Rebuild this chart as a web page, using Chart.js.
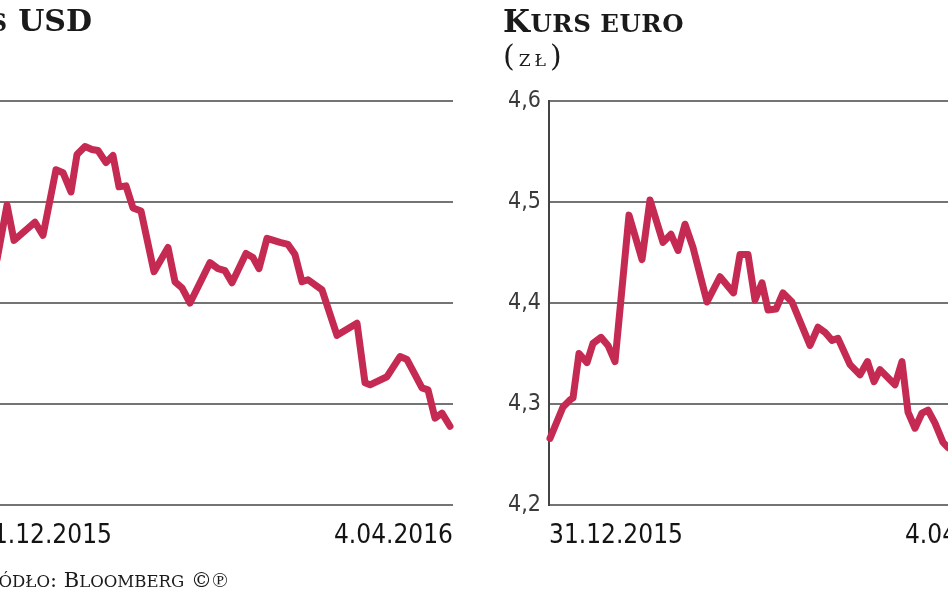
<!DOCTYPE html>
<html>
<head>
<meta charset="utf-8">
<script src="https://cdn.jsdelivr.net/npm/chart.js@4/dist/chart.umd.min.js"></script>
<style>
  html, body { margin: 0; padding: 0; width: 948px; height: 593px; overflow: hidden; background: #fff; }
  .panel { position: absolute; top: 0; width: 552px; height: 593px; }
  .title, .unit, .source { position: absolute; font-family: "DejaVu Serif", serif; color: #1a1a1a; white-space: nowrap; line-height: 1; }
  .title { font-weight: bold; font-size: 31px; letter-spacing: 0.5px; }
  .unit { font-size: 30px; letter-spacing: 4px; }
  .source { font-size: 21px; }
  .sc { font-size: 0.79em; text-transform: uppercase; }
</style>
</head>
<body>
<div class="panel" style="left:-91px"><canvas id="usdChart"></canvas></div>
<div class="panel" style="left:480px"><canvas id="eurChart"></canvas></div>
<div class="title" style="right:856px; top:6px; font-size:30px; letter-spacing:0">K<span class="sc" style="letter-spacing:0.5px">urs</span> USD</div>
<div class="title" style="left:503px; top:6px">K<span class="sc">urs euro</span></div>
<div class="unit" style="left:503px; top:41px">(<span class="sc" style="font-size:0.57em">zł</span>)</div>
<div class="source" style="right:720px; top:570px">Ź<span class="sc">ródło</span>: B<span class="sc">loomberg</span> ©℗</div>
<script>
// days since 31.12.2015
const dateLabels = ["31.12.2015", "4.04.2016"];
const dayRange = [0, 95];

const usdDays = [0, 3.8, 5.8, 7.2, 11.4, 13.0, 15.6, 17.0, 18.6, 19.8, 21.4, 22.8, 24.0, 25.6, 27.0, 28.2, 29.6, 31.0, 32.6,
  35.2, 38.0, 39.4, 40.8, 42.4, 46.4, 48.0, 49.4, 50.8, 53.6, 55.0, 56.2, 57.8, 60.4, 62.0, 63.4, 64.8, 66.0, 68.8,
  71.8, 75.8, 77.4, 78.4, 81.8, 84.4, 85.8, 87.4, 88.8, 90.0, 91.4, 92.8, 94.4];
const usdRates = [3.920, 3.943, 3.997, 3.962, 3.980, 3.967, 4.032, 4.029, 4.010, 4.047, 4.055, 4.052, 4.051, 4.039, 4.046, 4.015, 4.016, 3.994, 3.991,
  3.931, 3.955, 3.921, 3.915, 3.900, 3.940, 3.934, 3.932, 3.920, 3.949, 3.945, 3.934, 3.964, 3.960, 3.958, 3.948, 3.921, 3.923, 3.913,
  3.868, 3.880, 3.821, 3.819, 3.827, 3.847, 3.844, 3.829, 3.816, 3.814, 3.786, 3.791, 3.778];
const usdTicks = [3.7, 3.8, 3.9, 4.0, 4.1];

const eurDays = [0.2, 2.8, 4.2, 4.8, 6.0, 7.6, 8.8, 10.4, 11.8, 13.2, 16.0, 18.6, 20.2, 22.8, 24.4, 25.8, 27.2, 28.8,
  31.6, 34.2, 36.9, 38.2, 39.8, 41.2, 42.6, 43.8, 45.4, 46.8, 48.6, 52.2, 53.8, 55.2, 56.6, 57.8, 60.2, 62.2, 63.7,
  65.0, 66.2, 67.8, 69.2, 70.6, 71.8, 73.2, 74.6, 75.8, 77.2, 78.8, 79.8, 80.8];
const eurRates = [4.266, 4.297, 4.304, 4.306, 4.350, 4.341, 4.360, 4.366, 4.358, 4.342, 4.487, 4.443, 4.502, 4.460, 4.468, 4.452, 4.478, 4.455,
  4.401, 4.426, 4.410, 4.448, 4.448, 4.403, 4.420, 4.393, 4.394, 4.410, 4.401, 4.358, 4.376, 4.371, 4.363, 4.365, 4.339, 4.329, 4.342,
  4.322, 4.334, 4.326, 4.319, 4.342, 4.292, 4.276, 4.291, 4.294, 4.281, 4.262, 4.257, 4.254];
const eurTicks = [4.2, 4.3, 4.4, 4.5, 4.6];

const lineColor = "#c52a52";
const numFont = "'DejaVu Sans Condensed', 'DejaVu Sans', sans-serif";

function buildRateChart(canvasId, days, rates, ticks) {
  const points = days.map((d, i) => ({ x: d, y: rates[i] }));
  return new Chart(document.getElementById(canvasId).getContext("2d"), {
    type: "line",
    data: {
      datasets: [{
        data: points,
        borderColor: lineColor,
        borderWidth: 7,
        borderJoinStyle: "round",
        borderCapStyle: "round",
        pointRadius: 0,
        tension: 0,
        clip: false
      }]
    },
    options: {
      responsive: true,
      maintainAspectRatio: false,
      animation: false,
      layout: { padding: { top: 101, bottom: 38, left: 0, right: 0 } },
      plugins: { legend: { display: false }, tooltip: { enabled: false } },
      scales: {
        x: {
          type: "linear",
          min: dayRange[0],
          max: dayRange[1],
          afterBuildTicks: (scale) => { scale.ticks = dayRange.map((v) => ({ value: v })); },
          afterFit: (scale) => { scale.height = 50; },
          grid: { display: false },
          border: { display: false },
          ticks: {
            align: "inner",
            padding: 8,
            color: "#141414",
            font: { family: numFont, size: 26 },
            callback: (value) => dateLabels[dayRange.indexOf(value)]
          }
        },
        y: {
          min: ticks[0],
          max: ticks[ticks.length - 1],
          afterBuildTicks: (scale) => { scale.ticks = ticks.map((v) => ({ value: v })); },
          afterFit: (scale) => { scale.width = 69; },
          grid: { color: "#747474", lineWidth: 2, drawTicks: false },
          border: { display: true, color: "#444", width: 2 },
          ticks: {
            padding: 8,
            color: "#3a3a3a",
            font: { family: numFont, size: 23 },
            callback: (value) => value.toFixed(1).replace(".", ",")
          }
        }
      }
    }
  });
}

buildRateChart("usdChart", usdDays, usdRates, usdTicks);
buildRateChart("eurChart", eurDays, eurRates, eurTicks);
</script>
</body>
</html>
